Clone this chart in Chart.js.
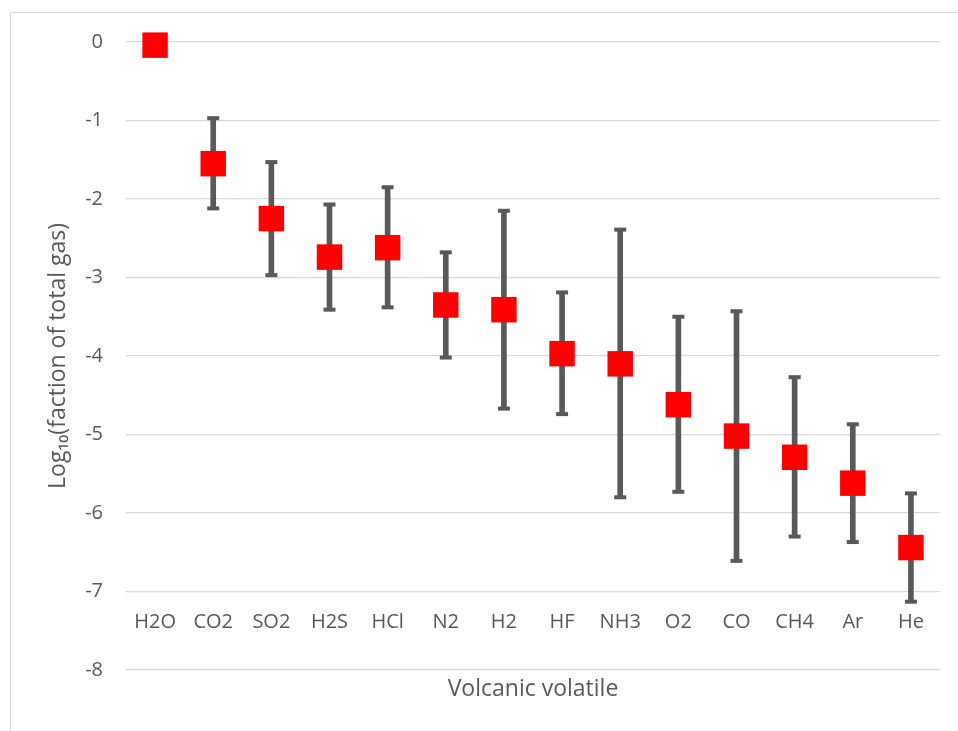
<!DOCTYPE html>
<html>
<head>
<meta charset="utf-8">
<script src="https://cdn.jsdelivr.net/npm/chart.js@4/dist/chart.umd.min.js"></script>
<style>
  html, body { margin: 0; padding: 0; background: #ffffff; overflow: hidden; width: 958px; height: 731px; }
  #frame { position: absolute; left: 10px; top: 12px; width: 1000px; height: 800px; border: 1px solid #d9d9d9; box-sizing: border-box; }
  #c { position: absolute; left: 0; top: 0; }
</style>
</head>
<body>
<div id="frame"></div>
<canvas id="c" width="958" height="731"></canvas>
<script>
const categories = ['H2O','CO2','SO2','H2S','HCl','N2','H2','HF','NH3','O2','CO','CH4','Ar','He'];
const meanValues = [-0.04,-1.55,-2.25,-2.74,-2.62,-3.35,-3.41,-3.97,-4.10,-4.62,-5.02,-5.29,-5.62,-6.44];
const upperValues = [null,-0.97,-1.53,-2.07,-1.85,-2.68,-2.15,-3.19,-2.39,-3.50,-3.43,-4.27,-4.87,-5.75];
const lowerValues = [null,-2.12,-2.97,-3.41,-3.38,-4.02,-4.67,-4.74,-5.80,-5.73,-6.61,-6.30,-6.37,-7.13];
const yTicks = [0,-1,-2,-3,-4,-5,-6,-7,-8];

const textColor = '#595959';
const barColor = '#595959';
const family = "'Open Sans', 'DejaVu Sans', sans-serif";
const tickFont = { family: family, size: 20 };
const titleFont = { family: family, size: 23, weight: 'normal' };

const ranges = categories.map((c, i) => (upperValues[i] === null ? null : [lowerValues[i], upperValues[i]]));

new Chart(document.getElementById('c'), {
  type: 'bar',
  data: {
    labels: categories,
    datasets: [
      {
        type: 'bar',
        data: ranges,
        backgroundColor: barColor,
        borderWidth: 0,
        barThickness: 5,
        grouped: false,
        order: 3
      },
      {
        type: 'line',
        data: upperValues,
        showLine: false,
        pointStyle: 'line',
        pointRadius: 6,
        pointHoverRadius: 6,
        pointBorderWidth: 4,
        pointBorderColor: barColor,
        order: 2
      },
      {
        type: 'line',
        data: lowerValues,
        showLine: false,
        pointStyle: 'line',
        pointRadius: 6,
        pointHoverRadius: 6,
        pointBorderWidth: 4,
        pointBorderColor: barColor,
        order: 2
      },
      {
        type: 'line',
        data: meanValues,
        showLine: false,
        clip: false,
        pointStyle: 'rect',
        pointRadius: 18,
        pointHoverRadius: 18,
        pointBorderWidth: 0,
        pointBackgroundColor: '#ff0000',
        pointBorderColor: '#ff0000',
        order: 0
      }
    ]
  },
  options: {
    responsive: false,
    animation: false,
    devicePixelRatio: 1,
    layout: { padding: { left: 0, right: 17, top: 42, bottom: 0 } },
    plugins: {
      legend: { display: false },
      tooltip: { enabled: false }
    },
    scales: {
      x: {
        type: 'category',
        position: { y: -7 },
        offset: true,
        grid: { display: false, drawTicks: false },
        border: { display: false },
        ticks: { color: textColor, font: tickFont, padding: 19, maxRotation: 0, autoSkip: false }
      },
      xTitle: {
        type: 'category',
        position: 'bottom',
        offset: true,
        grid: { display: false, drawTicks: false },
        border: { display: false },
        ticks: { display: false },
        afterFit: (scale) => { scale.height = 61; },
        title: {
          display: true,
          text: 'Volcanic volatile',
          color: textColor,
          font: titleFont,
          padding: { top: 5, bottom: 28 }
        }
      },
      y: {
        type: 'linear',
        min: -8,
        max: 0,
        afterFit: (scale) => { scale.width = 126; },
        afterBuildTicks: (scale) => { scale.ticks = yTicks.map(v => ({ value: v })); },
        grid: { color: '#d9d9d9', lineWidth: 1.3, drawTicks: false },
        border: { display: false },
        ticks: { color: textColor, font: tickFont, padding: 23 },
        title: {
          display: true,
          text: 'Log\u2081\u2080(faction of total gas)',
          color: textColor,
          font: titleFont,
          padding: { top: 45, bottom: 0 }
        }
      }
    }
  }
});
</script>
</body>
</html>
